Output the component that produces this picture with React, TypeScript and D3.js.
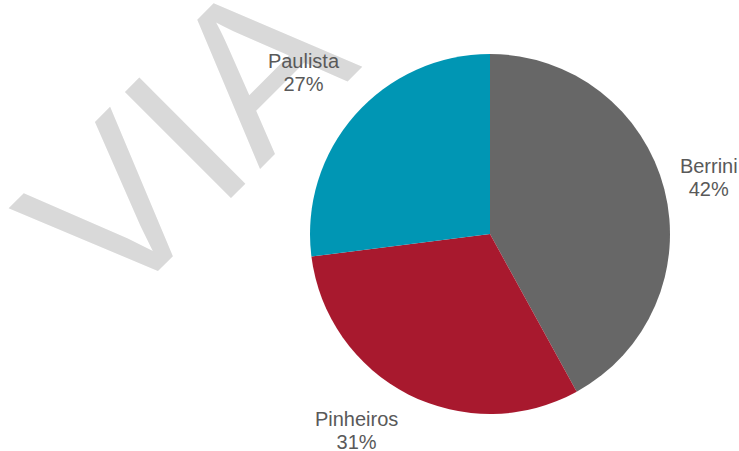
import React from "react";
import * as d3 from "d3";

const categories = ["Berrini", "Pinheiros", "Paulista"];
const shares = [42, 31, 27];
const percentLabels = ["42%", "31%", "27%"];
const sliceColors = ["#676767", "#A8192E", "#0096B4"];
const watermarkText = "VIA";

const W = 739;
const H = 451;
const CX = 490;
const CY = 234;
const R = 180;
const LABEL_R = 230;
// label nudges (layout only), same order as categories
const labelNudge: [number, number][] = [
  [-4, 0],
  [-29, -9],
  [-14, -10],
];

export default function App() {
  const pie = d3
    .pie<number>()
    .sort(null)
    .value((d) => d);
  const arcs = pie(shares);
  const arcGen = d3.arc<d3.PieArcDatum<number>>().innerRadius(0).outerRadius(R);
  const labelArc = d3
    .arc<d3.PieArcDatum<number>>()
    .innerRadius(LABEL_R)
    .outerRadius(LABEL_R);

  return (
    <svg
      width={W}
      height={H}
      style={{ position: "absolute", left: 0, top: 0, display: "block", background: "#ffffff" }}
      fontFamily="'Liberation Sans', Arial, sans-serif"
    >
      <rect x={0} y={0} width={W} height={H} fill="#ffffff" />
      <text
        transform="translate(114,315) rotate(-45)"
        fontSize={218}
        fill="#d9d9d9"
      >
        {watermarkText}
      </text>
      <g transform={`translate(${CX},${CY})`}>
        {arcs.map((a, i) => (
          <path key={categories[i]} d={arcGen(a) || ""} fill={sliceColors[i]} />
        ))}
      </g>
      {arcs.map((a, i) => {
        const [lx, ly] = labelArc.centroid(a);
        const x = CX + lx + labelNudge[i][0];
        const y = CY + ly + labelNudge[i][1];
        return (
          <text key={"l" + i} textAnchor="middle" fontSize={20} fill="#595959">
            <tspan x={x} y={y - 4}>
              {categories[i]}
            </tspan>
            <tspan x={x} y={y + 19}>
              {percentLabels[i]}
            </tspan>
          </text>
        );
      })}
    </svg>
  );
}
